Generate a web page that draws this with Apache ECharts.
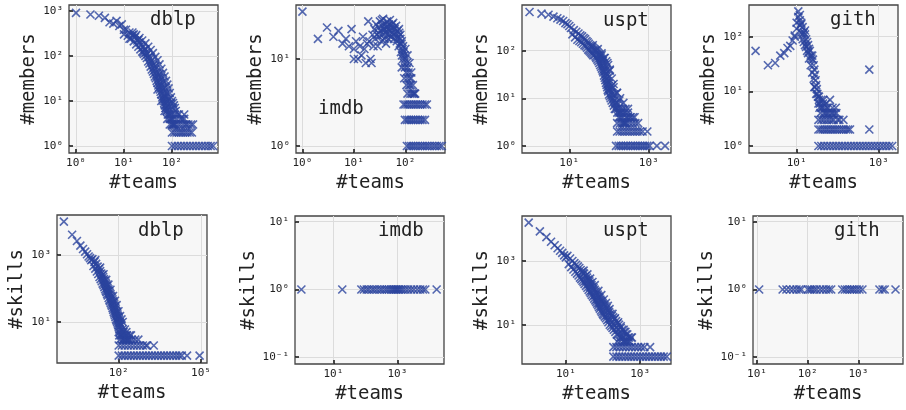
<!DOCTYPE html>
<html>
<head>
<meta charset="utf-8">
<script src="https://cdn.jsdelivr.net/npm/echarts@6/dist/echarts.min.js"></script>
<style>
  html, body { margin: 0; background: #fff; }
  #main { width: 906px; height: 410px; }
</style>
</head>
<body>
<div id="main"></div>
<script>
// [#teams, #members] / [#teams, #skills]
var dblpMembers = [
  [1,900],[2,830],[3,780],[4,700],[5,560],[6,520],[7,600],[8,460],[9,500],[10,380],[10,300],
  [11,380],[12,280],[13,330],[14,240],[15,290],[16,210],[17,260],[18,180],[19,220],[20,160],
  [21,200],[22,140],[23,175],[24,125],[25,155],[26,110],[27,140],[28,100],[29,120],[30,90],
  [13,240],[16,300],[20,230],[25,120],[28,140],
  [31,110],[32,75],[33,95],[34,68],[35,88],[36,58],[37,78],[38,50],[39,70],[40,45],[41,62],
  [42,40],[43,56],[44,35],[45,50],[46,32],[47,44],[48,28],[49,40],[50,25],[51,36],[52,22],
  [53,32],[54,20],[55,28],[56,18],[57,25],[58,16],[59,22],[60,14],[62,20],[63,12],[64,18],
  [65,11],[66,16],[67,10],[68,14],[69,9],[70,13],[71,8],[72,12],[73,7],[74,11],[75,7],[76,10],
  [77,6],[78,9],[79,6],[80,8],[82,5],[84,7],[86,5],[88,6],[90,4],[92,5],[94,4],[96,5],[98,3],
  [100,4],[102,3],[105,4],[108,3],[110,3],[115,3],
  [45,60],[55,40],[60,33],[66,27],[72,20],[80,15],[88,11],[95,9],[105,7],[115,5],[125,4],
  [50,18],[60,10],[70,6],[80,4],[90,3],[180,5],
  [15,330],[18,290],[21,250],[24,220],[28,190],[32,160],[36,135],[40,115],[45,95],[50,80],
  [55,65],[60,52],[65,42],[70,35],[75,28],[80,23],[85,19],[90,15],[95,12],[100,10],[105,9],
  [110,8],[115,7],[120,6],[130,5],[140,5],[150,4],[165,4],[180,4],[200,3],[220,3],[250,3],[275,3],
  [105,3],[120,3],[135,3],[150,3],[170,3],[190,3],
  [100,2],[112,2],[125,2],[140,2],[155,2],[170,2],[190,2],[210,2],[235,2],[260,2],
  [100,1],[115,1],[133,1],[154,1],[178,1],[205,1],[237,1],[274,1],[316,1],[365,1],[420,1],
  [486,1],[560,1],[640,1],[720,1]
];
var imdbMembers = [
  [1,35],[2,17],[3,23],[4,18],[5,21],[6,15],[7,17],[8,14],[9,22],[10,13],[10,10],[11,16],
  [12,10],[13,14],[14,11],[15,18],[16,13],[17,9],[18,15],[19,27],[20,16],[21,10],[22,9],
  [23,19],[24,14],
  [25,22],[26,17],[27,25],[28,19],[29,14],[30,23],[31,18],[32,27],[33,21],[34,16],[35,24],
  [36,19],[37,29],[38,22],[39,17],[40,25],[41,20],[42,15],[43,23],[44,27],[45,19],[46,22],
  [47,17],[48,25],[49,21],[50,28],[52,18],[54,23],[56,20],[58,26],[60,17],[62,22],[64,19],
  [66,24],[68,16],[70,21],
  [30,20],[35,28],[40,22],[45,24],[50,19],[55,25],[60,23],[65,20],[70,17],[75,22],[80,19],
  [85,16],[90,14],
  [72,18],[74,14],[76,20],[78,15],[80,17],[82,12],[84,15],[86,11],[88,13],[90,10],[92,12],
  [94,9],[96,11],[98,8],[100,10],[103,7],[106,9],[109,6],[112,8],[115,7],[118,5],[122,6],
  [126,5],[130,6],[135,4],[140,5],[145,4],[150,4],[155,4],[85,8],[95,6],[105,5],[110,4],
  [125,4],[100,13],[110,11],[120,9],[130,7],
  [92,3],[100,3],[110,3],[120,3],[132,3],[145,3],[160,3],[175,3],[195,3],[215,3],[240,3],[262,3],
  [98,2],[108,2],[118,2],[130,2],[143,2],[158,2],[175,2],[195,2],[215,2],[240,2],
  [107,1],[118,1],[130,1],[143,1],[158,1],[175,1],[195,1],[215,1],[240,1],[265,1],[295,1],
  [330,1],[370,1],[410,1],[460,1],[510,1]
];
var usptMembers = [
  [1,650],[2,600],[3,570],[4,520],[5,480],[6,450],[7,420],[8,380],[9,360],[10,330],
  [11,300],[12,220],[13,270],[14,190],[15,250],[16,170],[17,230],[18,160],[19,210],[20,150],
  [21,200],[22,140],[23,185],[24,130],[25,175],[26,125],[27,160],[28,115],[29,150],[30,105],
  [31,140],[32,100],[33,130],[34,95],[35,125],[36,90],[37,120],[38,85],[39,115],[40,80],
  [42,110],[43,80],[44,105],[46,75],[47,100],[48,70],[50,95],[51,65],[53,90],[54,60],[56,85],
  [57,55],[59,78],[60,50],[62,72],[63,46],[65,66],[66,42],[68,60],[69,38],[71,54],[72,35],
  [74,48],[75,30],[77,42],[78,27],[80,37],[81,24],[83,33],[84,21],[86,29],[87,19],[89,26],
  [90,17],[92,23],[93,15],[95,20],[96,14],[98,18],[100,12],[102,16],[105,11],[108,15],
  [110,10],[113,13],[116,9],[120,12],[124,8],[128,10],[132,7],[136,9],[140,6],[145,8],
  [150,6],[156,7],[162,5],[168,6],[175,4],[182,5],[190,4],[198,5],[207,4],[216,3],[226,4],
  [238,3],[250,3],[265,3],[280,4],
  [130,20],[160,13],[190,10],[230,8],[260,6],[300,5],[340,4],[440,4],
  [105,40],[95,50],[85,60],[75,70],[65,80],
  [39,130],[52,108],[65,88],[78,70],[91,55],[104,38],[117,26],[130,17],[156,13],[182,9],
  [220,6],[270,4],[300,4],[350,4],[400,4],[200,5],[250,5],[300,6],
  [45,100],[55,80],[70,60],[85,40],[100,28],[115,18],[135,12],[160,8],[190,6],
  [160,3],[190,3],[230,3],[280,3],[330,3],[390,3],[460,3],[540,3],
  [160,2],[185,2],[215,2],[250,2],[290,2],[335,2],[390,2],[450,2],[520,2],[600,2],[700,2],[920,2],
  [150,1],[175,1],[200,1],[230,1],[265,1],[300,1],[350,1],[400,1],[460,1],[530,1],[610,1],
  [700,1],[800,1],[920,1],[1050,1],[1600,1],[2570,1]
];
var githMembers = [
  [1,55],[2,30],[3,33],[4,45],[5,50],[6,62],[7,68],[8,85],[9,100],[9,105],[10,180],[10,140],
  [11,290],[11,230],[12,200],[12,250],[13,170],[13,180],[14,150],[14,110],[15,120],[16,110],
  [16,130],[17,90],[17,65],[18,80],[19,70],[19,50],[20,60],[21,55],[22,45],[23,40],
  [24,45],[25,38],[26,30],[27,25],[28,20],[29,16],[30,13],[31,11],[32,9],[27,12],
  [12,160],[13,120],[14,90],[15,80],[16,70],[18,55],[20,40],[22,30],[24,22],[26,17],[28,12],
  [30,9],[35,8],[40,5],[45,7],[55,5],[60,4],[75,4],[90,5],
  [33,8],[34,6],[35,7],[36,5],[37,6],[38,4],[40,7],[42,5],[44,6],[46,4],[48,5],[50,4],
  [52,6],[55,4],[58,5],[62,3],[65,7],[70,4],[75,5],[80,3],[85,4],[93,4],[100,3],[110,3],[138,3],
  [34,3],[40,3],[46,3],[54,3],[72,3],
  [34,2],[38,2],[43,2],[48,2],[54,2],[60,2],[68,2],[76,2],[86,2],[97,2],[110,2],[125,2],
  [140,2],[160,2],[180,2],[200,2],[590,2],
  [34,1],[40,1],[47,1],[56,1],[66,1],[78,1],[92,1],[108,1],[128,1],[150,1],[178,1],[210,1],
  [248,1],[292,1],[345,1],[407,1],[480,1],[567,1],[669,1],[789,1],[931,1],[1100,1],[1300,1],
  [1530,1],[1800,1],[2130,1],
  [590,25]
];
var dblpSkills = [
  [1,9800],[2,4000],[3,2600],[4,1900],[5,1500],[6,1250],[7,1050],[8,900],[9,800],[10,700],
  [11,750],[12,470],[13,620],[14,390],[15,540],[16,320],[17,450],[18,270],[19,380],[20,220],
  [21,330],[22,190],[23,280],[24,165],[25,250],[26,140],[27,220],[28,125],[29,190],[30,110],
  [31,170],[32,95],[33,150],[34,85],[35,135],[36,78],[37,120],[38,68],[39,105],[40,62],
  [42,95],[43,52],[44,85],[46,46],[47,75],[48,42],[50,68],[51,37],[53,60],[54,33],[56,54],
  [57,30],[59,48],[60,26],[62,42],[63,23],[65,38],[66,20],[68,34],[69,18],[71,30],[72,16],
  [74,27],[76,14],[78,24],[80,12],[82,21],[84,11],[86,19],[88,10],[90,17],[92,9],[94,15],
  [96,8],[98,14],[100,7],[103,12],[106,6],[109,10],[112,5],[116,9],[120,4],[125,8],[130,4],
  [135,6],[140,3],[150,5],[160,3],[175,4],[190,3],[210,3],[240,3],
  [14,700],[21,420],[28,265],[35,180],[42,130],[50,92],[62,60],[73,43],[84,32],[98,21],
  [112,15],[126,12],[140,10],[168,6],[196,4],[250,4],
  [110,3],[140,3],[180,3],[230,3],[300,3],[400,3],[520,3],
  [105,4],[150,4],[200,4],[280,4],[100,5],[140,5],[190,5],
  [100,2],[130,2],[165,2],[215,2],[275,2],[355,2],[460,2],[590,2],[760,2],[980,2],[1100,2],[1900,2],
  [100,1],[130,1],[165,1],[215,1],[275,1],[355,1],[460,1],[590,1],[760,1],[980,1],[1260,1],
  [1630,1],[2100,1],[2700,1],[3500,1],[4500,1],[5800,1],[7500,1],[9700,1],[12500,1],[16000,1],
  [20000,1],[31000,1],[89000,1]
];
var imdbSkills = [
  [1,1],[19,1],[75,1],[90,1],[110,1],[130,1],[160,1],[190,1],[230,1],[280,1],[330,1],[400,1],
  [470,1],[550,1],[640,1],[720,1],[800,1],[880,1],[950,1],[1050,1],[1150,1],[1300,1],[1500,1],
  [1800,1],[2200,1],[2700,1],[3300,1],[4200,1],[5200,1],[6300,1],[7500,1],[17000,1]
];
var usptSkills = [
  [1,16000],[2,8500],[3,5600],[4,4000],[5,3100],[6,2500],[7,2100],[8,1800],[9,1500],[10,1300],
  [11,1450],[12,800],[13,1200],[14,640],[15,1000],[16,540],[17,860],[18,460],[19,760],[20,400],
  [21,680],[22,350],[23,600],[24,300],[25,520],[26,270],[27,460],[28,240],[29,410],[30,215],
  [31,400],[32,190],[34,340],[35,165],[37,300],[38,145],[40,260],[41,125],[43,230],[44,110],
  [46,200],[47,98],[49,175],[50,86],[52,155],[54,76],[56,140],[58,66],[60,125],[62,58],
  [64,110],[66,52],[68,98],[70,46],[72,88],[74,41],[76,78],[78,36],[80,70],[82,32],[85,62],
  [88,28],[90,56],[93,25],[96,50],[99,22],[100,46],
  [104,20],[108,42],[112,18],[116,38],[120,16],[125,33],[130,14],[135,28],[140,12],[146,25],
  [152,10],[158,22],[165,9],[172,19],[180,8],[188,17],[196,7],[205,15],[215,6],[225,13],
  [235,5],[245,11],[258,5],[270,10],[285,4],[300,8],[315,4],[330,7],[350,3],[370,6],[390,3],
  [410,5],[440,3],[470,4],[520,3],
  [110,27],[130,20],[150,15],[175,12],[200,10],[230,8],[260,7],[300,5],[350,4],[60,85],
  [70,65],[80,48],[90,38],[45,150],[50,120],[40,190],[35,240],
  [30,500],[38,380],[45,280],[52,220],[60,175],[75,115],[90,85],[105,62],[120,48],[135,39],
  [150,31],[180,22],[210,16],[255,12],[300,9],[360,7],[450,5],[570,4],[400,6],[500,4],
  [600,4],[240,3],[290,3],[350,3],[420,3],[500,3],
  [190,2],[230,2],[280,2],[340,2],[410,2],[500,2],[600,2],[730,2],[880,2],[1070,2],[1300,2],[1850,2],
  [190,1],[230,1],[275,1],[330,1],[400,1],[480,1],[575,1],[690,1],[830,1],[1000,1],[1200,1],
  [1440,1],[1730,1],[2070,1],[2490,1],[3000,1],[3600,1],[4300,1],[5200,1]
];
var githSkills = [
  [11,1],[32,1],[38,1],[45,1],[52,1],[60,1],[68,1],[75,1],[100,1],[110,1],[120,1],[135,1],
  [150,1],[175,1],[200,1],[230,1],[260,1],[290,1],[480,1],[540,1],[600,1],[680,1],[750,1],
  [830,1],[930,1],[1050,1],[1200,1],[2600,1],[3000,1],[3300,1],[5400,1]
];

// major tick values of each panel
var ticksX = [[1,10,100],[1,10,100],[10,1000],[10,1000],[100,100000],[10,1000],[10,1000],[10,100,1000]];
var ticksY = [[1,10,100,1000],[1,10],[1,10,100],[1,10,100],[10,1000],[0.1,1,10],[10,1000],[0.1,1,10]];
var names = ['dblp','imdb','uspt','gith','dblp','imdb','uspt','gith'];
var yNames = ['#members','#members','#members','#members','#skills','#skills','#skills','#skills'];
var series = [dblpMembers, imdbMembers, usptMembers, githMembers, dblpSkills, imdbSkills, usptSkills, githSkills];

// layout: grid box [left, top, width, height], log10 ranges, title position
var boxes = [[69,5,149,148],[296,5,149,148],[522,5,149,148],[749,5,149,148],
             [57,215,150,148],[295,216,149,148],[522,216,149,148],[753,216,150,148]];
var xr = [[-0.146,2.96],[-0.125,2.77],[-0.19,3.56],[-0.16,3.47],[-0.25,5.22],[-0.2,4.46],[-0.18,3.83],[0.92,3.88]];
var yr = [[-0.155,3.13],[-0.08,1.62],[-0.15,2.96],[-0.128,2.58],[-0.22,4.19],[-1.1,1.084],[-0.23,4.41],[-1.1,1.084]];
var titlePos = [[150,11],[318,100],[603,12],[830,11],[138,222],[378,222],[603,222],[834,222]];

var sup = {'-':'\u207b','0':'\u2070','1':'\u00b9','2':'\u00b2','3':'\u00b3','4':'\u2074','5':'\u2075'};
function powLabel(v) {
  var e = String(Math.round(Math.log(v) / Math.LN10));
  var s = '10';
  for (var i = 0; i < e.length; i++) s += sup[e[i]];
  return s;
}

var mono = 'DejaVu Sans Mono';
var blue = '#2b449d';
var grids = [], xAxes = [], yAxes = [], ser = [], titles = [];

for (var i = 0; i < 8; i++) {
  grids.push({
    left: boxes[i][0], top: boxes[i][1], width: boxes[i][2], height: boxes[i][3],
    show: true, backgroundColor: '#f7f7f7', borderColor: '#444', borderWidth: 1.3
  });
  var common = {
    type: 'log', logBase: 10, gridIndex: i,
    nameLocation: 'middle',
    nameTextStyle: { fontFamily: mono, fontSize: 19, color: '#222' },
    axisLine: { show: false },
    splitLine: { show: true, lineStyle: { color: '#dcdcdc', width: 1 } },
    minorTick: { show: false }, minorSplitLine: { show: false }
  };
  xAxes.push(Object.assign({}, common, {
    name: '#teams', nameGap: 21,
    min: Math.pow(10, xr[i][0]), max: Math.pow(10, xr[i][1]),
    axisTick: { show: true, inside: true, length: 4, customValues: ticksX[i], lineStyle: { color: '#111', width: 1.5 } },
    axisLabel: { customValues: ticksX[i], formatter: powLabel, fontFamily: mono, fontSize: 11, color: '#222', margin: 5 }
  }));
  yAxes.push(Object.assign({}, common, {
    name: yNames[i], nameGap: 30,
    min: Math.pow(10, yr[i][0]), max: Math.pow(10, yr[i][1]),
    axisTick: { show: true, inside: true, length: 4, customValues: ticksY[i], lineStyle: { color: '#111', width: 1.5 } },
    axisLabel: { customValues: ticksY[i], formatter: powLabel, fontFamily: mono, fontSize: 11, color: '#222', margin: 6 }
  }));
  ser.push({
    type: 'scatter', xAxisIndex: i, yAxisIndex: i,
    data: series[i],
    symbol: 'path://M0,0L10,10M10,0L0,10',
    symbolSize: 8,
    itemStyle: { color: 'rgba(0,0,0,0)', borderColor: blue, borderWidth: 1.6 },
    emphasis: { disabled: true },
    silent: true
  });
  titles.push({
    text: names[i], left: titlePos[i][0], top: titlePos[i][1], padding: 0,
    textStyle: { fontFamily: mono, fontSize: 19, fontWeight: 'normal', color: '#222' }
  });
}

var chart = echarts.init(document.getElementById('main'));
chart.setOption({
  animation: false,
  backgroundColor: '#fff',
  title: titles,
  grid: grids,
  xAxis: xAxes,
  yAxis: yAxes,
  series: ser
});
</script>
</body>
</html>
